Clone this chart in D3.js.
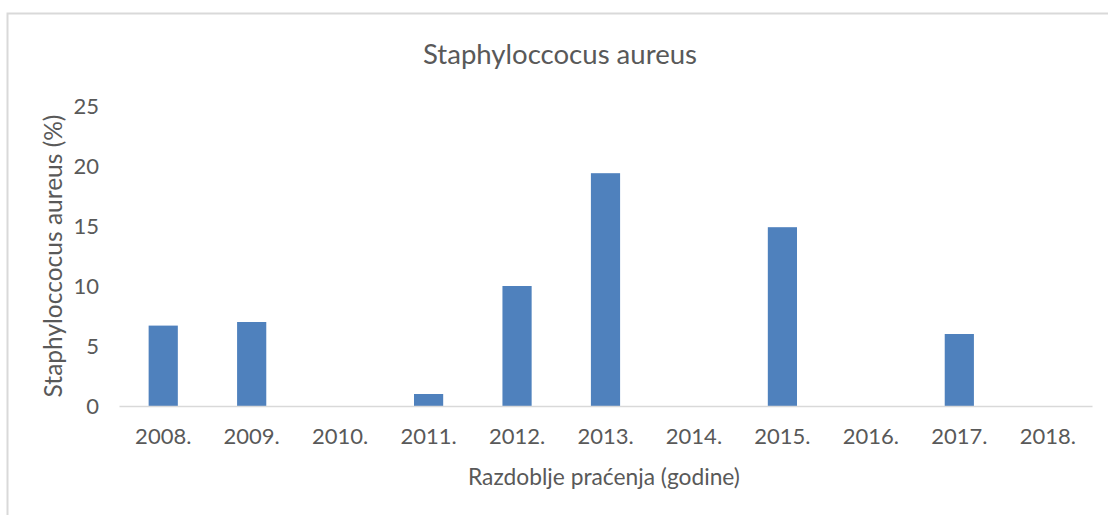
<!DOCTYPE html>
<html lang="hr">
<head>
  <meta charset="UTF-8">
  <title>Staphyloccocus aureus</title>
  <script src="https://d3js.org/d3.v7.min.js"></script>
  <style>
    body { margin: 0; background: #fff; }
    svg { font-family: 'Lato', sans-serif; }
    .tick-label { fill: #595959; font-size: 22px; }
    .axis-title { fill: #595959; font-size: 20px; }
    .chart-title { fill: #595959; font-size: 25px; }
  </style>
</head>
<body>
  <svg width="1108" height="515"></svg>

  <script>
    const years = ["2008.", "2009.", "2010.", "2011.", "2012.", "2013.", "2014.", "2015.", "2016.", "2017.", "2018."];
    const values = [6.7, 7.0, 0, 1.0, 10.0, 19.4, 0, 14.9, 0, 6.0, 0];
    const yTicks = [0, 5, 10, 15, 20, 25];

    const svg = d3.select("svg"),
      width = +svg.attr("width"),
      height = +svg.attr("height");

    const margin = {top: 106, right: 16, bottom: 109, left: 119};

    // shrink/grow a text until it is about w pixels long (Calibri is not available)
    function fitWidth(sel, w) {
      const size = parseFloat(getComputedStyle(sel.node()).fontSize);
      const len = sel.node().getComputedTextLength();
      sel.style("font-size", (size * w / len).toFixed(2) + "px");
    }

    // chart frame
    svg.append("rect")
      .attr("x", 7.5).attr("y", 13.5)
      .attr("width", width + 20).attr("height", height + 20)
      .attr("fill", "none")
      .attr("stroke", "#d9d9d9")
      .attr("stroke-width", 2);

    const x = d3.scaleBand()
      .domain(years)
      .range([margin.left, width - margin.right])
      .paddingInner(0.67)
      .paddingOuter(0.335);

    const y = d3.scaleLinear()
      .domain([0, 25])
      .range([height - margin.bottom, margin.top]);

    // bars
    svg.selectAll(".bar")
      .data(years.map((yr, i) => ({year: yr, value: values[i]})))
      .enter().append("rect")
        .attr("class", "bar")
        .attr("x", d => x(d.year))
        .attr("y", d => y(d.value))
        .attr("width", x.bandwidth())
        .attr("height", d => y(0) - y(d.value))
        .attr("fill", "#4f81bd");

    // x axis
    const xAxis = svg.append("g")
      .attr("transform", `translate(0,${y(0)})`)
      .call(d3.axisBottom(x).tickSize(0).tickPadding(22).tickSizeOuter(0))
      .attr("font-family", null).attr("font-size", null);
    xAxis.select(".domain").attr("stroke", "#d9d9d9").attr("stroke-width", 1.5);
    xAxis.selectAll("text").attr("class", "tick-label").attr("fill", null);

    // y axis
    const yAxis = svg.append("g")
      .attr("transform", `translate(${margin.left - 20},0)`)
      .call(d3.axisLeft(y).tickValues(yTicks).tickSize(0).tickPadding(0))
      .attr("font-family", null).attr("font-size", null);
    yAxis.select(".domain").remove();
    yAxis.selectAll("text").attr("class", "tick-label").attr("fill", null);

    const title = svg.append("text")
      .attr("class", "chart-title")
      .attr("x", 560).attr("y", 64)
      .attr("text-anchor", "middle")
      .text("Staphyloccocus aureus");
    fitWidth(title, 274);

    const xTitle = svg.append("text")
      .attr("class", "axis-title")
      .attr("x", 604).attr("y", 485)
      .attr("text-anchor", "middle")
      .text("Razdoblje praćenja (godine)");
    fitWidth(xTitle, 272);

    const yTitle = svg.append("text")
      .attr("class", "axis-title")
      .attr("transform", "translate(62,256) rotate(-90)")
      .attr("text-anchor", "middle")
      .text("Staphyloccocus aureus (%)");
    fitWidth(yTitle, 283);
  </script>
</body>
</html>
